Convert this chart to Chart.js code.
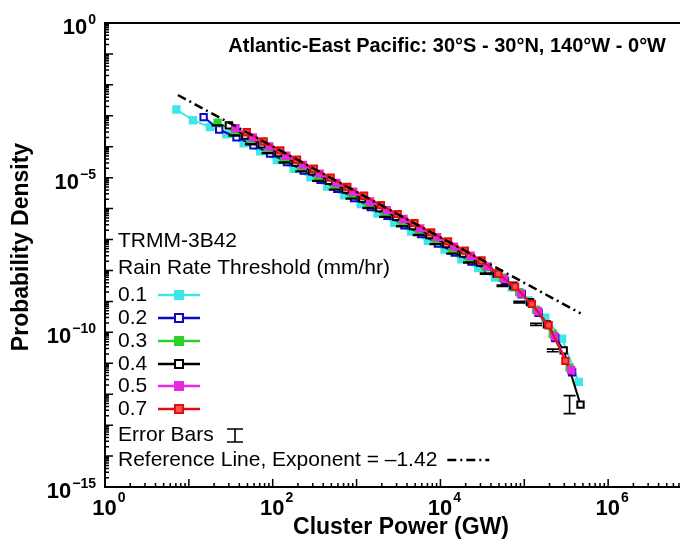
<!DOCTYPE html>
<html>
<head>
<meta charset="utf-8">
<script src="https://cdn.jsdelivr.net/npm/chart.js@4.4.1/dist/chart.umd.min.js"></script>
<style>
  html, body { margin: 0; padding: 0; background: #fff; overflow: hidden; }
  #wrap { width: 700px; height: 544px; }
</style>
</head>
<body>
<div id="wrap"><canvas id="myChart" width="700" height="544"></canvas></div>
<script>
// values (cluster power in GW, probability density)
const cyanPower = [7.1, 11.2, 17.8, 28, 45, 71, 112, 178, 282, 447, 708, 1120, 1780, 2820, 4470, 7080, 11200, 17800, 28200, 44700, 70800, 1.12e5, 1.78e5, 2.82e5, 4.47e5];
const cyanDensity = [1.6e-3, 7.2e-4, 4.3e-4, 2.5e-4, 1.3e-4, 7.1e-5, 3.7e-5, 1.95e-5, 1.02e-5, 5.2e-6, 2.7e-6, 1.4e-6, 6.9e-7, 3.5e-7, 1.8e-7, 9.1e-8, 4.7e-8, 2.3e-8, 1.2e-8, 5.9e-9, 2.8e-9, 1.07e-9, 3.0e-10, 6.2e-11, 2.5e-12];

const bluePower = [15, 23, 37, 59, 93, 148, 234, 372, 589, 933, 1480, 2340, 3720, 5890, 9330, 14800, 23400, 37200, 58900, 93300, 1.48e5, 2.34e5, 3.72e5];
const blueDensity = [9.1e-4, 3.6e-4, 2.0e-4, 1.12e-4, 6.0e-5, 3.2e-5, 1.7e-5, 8.5e-6, 4.4e-6, 2.2e-6, 1.12e-6, 5.8e-7, 2.9e-7, 1.5e-7, 7.4e-8, 3.8e-8, 1.95e-8, 9.8e-9, 4.6e-9, 1.7e-9, 4.3e-10, 6.5e-11, 5.1e-12];

const greenPower = [22, 35, 55, 87, 138, 219, 347, 550, 871, 1380, 2190, 3470, 5500, 8710, 13800, 21900, 34700, 55000, 87100, 1.38e5, 2.19e5, 3.47e5];
const greenDensity = [6.0e-4, 3.0e-4, 1.55e-4, 8.3e-5, 4.2e-5, 2.1e-5, 1.1e-5, 5.5e-6, 2.8e-6, 1.4e-6, 7.2e-7, 3.7e-7, 1.9e-7, 9.5e-8, 4.8e-8, 2.5e-8, 1.26e-8, 5.8e-9, 2.0e-9, 5.4e-10, 8.9e-11, 7.2e-12];

const blackPower = [30, 47, 74, 117, 186, 295, 468, 741, 1170, 1860, 2950, 4680, 7410, 11700, 18600, 29500, 46800, 74100, 1.17e5, 1.86e5, 2.95e5, 4.68e5];
const blackDensity = [4.9e-4, 2.3e-4, 1.2e-4, 6.2e-5, 3.1e-5, 1.6e-5, 7.9e-6, 4.1e-6, 2.1e-6, 1.05e-6, 5.4e-7, 2.7e-7, 1.4e-7, 7.1e-8, 3.5e-8, 1.8e-8, 7.9e-9, 3.2e-9, 9.5e-10, 1.8e-10, 2.6e-11, 4.6e-13];
const blackErr = [1.03, 1.03, 1.03, 1.03, 1.03, 1.03, 1.03, 1.03, 1.03, 1.03, 1.03, 1.03, 1.03, 1.03, 1.03, 1.03, 1.04, 1.05, 1.06, 1.08, 1.1, 1.95];

const magentaPower = [36, 58, 91, 145, 229, 363, 575, 912, 1450, 2290, 3630, 5750, 9120, 14500, 22900, 36300, 57500, 91200, 1.45e5, 2.29e5, 3.63e5];
const magentaDensity = [4.0e-4, 2.0e-4, 1.02e-4, 5.1e-5, 2.6e-5, 1.35e-5, 6.8e-6, 3.5e-6, 1.7e-6, 8.9e-7, 4.6e-7, 2.3e-7, 1.2e-7, 5.9e-8, 3.0e-8, 1.35e-8, 5.4e-9, 1.8e-9, 4.8e-10, 7.4e-11, 6.0e-12];

const redPower = [49, 78, 123, 195, 309, 490, 776, 1230, 1950, 3090, 4900, 7760, 12300, 19500, 30900, 49000, 77600, 1.23e5, 1.95e5, 3.09e5];
const redDensity = [2.95e-4, 1.48e-4, 7.6e-5, 3.8e-5, 1.95e-5, 1.0e-5, 5.0e-6, 2.6e-6, 1.3e-6, 6.6e-7, 3.4e-7, 1.7e-7, 8.7e-8, 4.4e-8, 2.1e-8, 7.8e-9, 3.0e-9, 8.3e-10, 1.7e-10, 1.2e-11];

// reference line, exponent -1.42 (end points)
const refPower = [7.4, 4.7e5];
const refDensity = [4.7e-3, 4.1e-10];

const thresholds = ['0.1', '0.2', '0.3', '0.4', '0.5', '0.7'];
const xTickExps = [0, 2, 4, 6];
const yTickExps = [0, -5, -10, -15];

const FONT = '"Liberation Sans", Arial, sans-serif';
const colors = ['#3ee6e6', '#0a0ac8', '#28d228', '#000000', '#e628e6', '#e01010'];
const fills = ['#3ee6e6', '#ffffff', '#28d228', '#ffffff', '#e628e6', '#ff5050'];

function pts(xs, ys) {
    return xs.map((x, i) => ({ x: x, y: ys[i] }));
}

function series(label, xs, ys, idx) {
    return {
        label: label,
        data: pts(xs, ys),
        borderColor: colors[idx],
        backgroundColor: fills[idx],
        borderWidth: 2,
        pointStyle: 'rect',
        pointRadius: 4.5,
        pointBorderWidth: 2,
        pointBorderColor: colors[idx],
        pointBackgroundColor: fills[idx],
        tension: 0
    };
}

const decor = {
    id: 'decor',
    afterDatasetsDraw(chart) {
        // error bars on the 0.4 series
        const ctx = chart.ctx;
        const ys = chart.scales.y;
        const meta = chart.getDatasetMeta(4);
        ctx.save();
        ctx.strokeStyle = '#000';
        ctx.lineWidth = 1.6;
        meta.data.forEach((el, j) => {
            const v = blackDensity[j];
            const f = blackErr[j];
            const top = ys.getPixelForValue(v * f);
            const bot = ys.getPixelForValue(v / f);
            ctx.beginPath();
            ctx.moveTo(el.x, top); ctx.lineTo(el.x, bot);
            ctx.moveTo(el.x - 6, top); ctx.lineTo(el.x + 6, top);
            ctx.moveTo(el.x - 6, bot); ctx.lineTo(el.x + 6, bot);
            ctx.stroke();
        });
        ctx.restore();
    },
    afterDraw(chart) {
        const ctx = chart.ctx;
        const a = chart.chartArea;
        const xs = chart.scales.x;
        const ys = chart.scales.y;
        ctx.save();
        ctx.strokeStyle = '#000';
        ctx.fillStyle = '#000';

        // top frame
        ctx.lineWidth = 2;
        ctx.beginPath();
        ctx.moveTo(a.left, a.top); ctx.lineTo(a.right, a.top);
        ctx.stroke();

        // inward ticks
        ctx.lineWidth = 1.5;
        ctx.beginPath();
        for (let e = 0; e <= 7; e++) {
            for (let m = 1; m <= 9; m++) {
                const v = m * Math.pow(10, e);
                if (v > 1e7) break;
                const px = xs.getPixelForValue(v);
                const len = m === 1 ? 8 : 4;
                ctx.moveTo(px, a.bottom); ctx.lineTo(px, a.bottom - len);
            }
        }
        for (let e = -15; e <= 0; e++) {
            for (let m = 1; m <= 9; m++) {
                const v = m * Math.pow(10, e);
                if (v > 1) break;
                const py = ys.getPixelForValue(v);
                const len = m === 1 ? 8 : 4;
                ctx.moveTo(a.left, py); ctx.lineTo(a.left + len, py);
            }
        }
        ctx.stroke();

        // tick labels 10^n
        const base = 'bold 22px ' + FONT;
        const sup = 'bold 14px ' + FONT;
        xTickExps.forEach(e => {
            const px = xs.getPixelForValue(Math.pow(10, e));
            const es = String(e).replace('-', '\u2212');
            ctx.font = base; const w1 = ctx.measureText('10').width;
            ctx.font = sup; const w2 = ctx.measureText(es).width;
            const x0 = px + 4 - (w1 + w2 + 1) / 2;
            ctx.textAlign = 'left'; ctx.textBaseline = 'alphabetic';
            ctx.font = base; ctx.fillText('10', x0, a.bottom + 28);
            ctx.font = sup; ctx.fillText(es, x0 + w1 + 1, a.bottom + 15);
        });
        yTickExps.forEach(e => {
            const py = ys.getPixelForValue(Math.pow(10, e));
            const es = String(e).replace('-', '\u2212');
            ctx.font = base; const w1 = ctx.measureText('10').width;
            ctx.font = sup; const w2 = ctx.measureText(es).width;
            const x0 = 96 - w2 - 1 - w1;
            ctx.textAlign = 'left'; ctx.textBaseline = 'alphabetic';
            ctx.font = base; ctx.fillText('10', x0, py + 11);
            ctx.font = sup; ctx.fillText(es, x0 + w1 + 1, py + 1);
        });

        // axis titles
        ctx.font = 'bold 23px ' + FONT;
        ctx.textAlign = 'center'; ctx.textBaseline = 'middle';
        ctx.fillText('Cluster Power (GW)', 401, 528);
        ctx.save();
        ctx.translate(22, 247);
        ctx.rotate(-Math.PI / 2);
        ctx.fillText('Probability Density', 0, 0);
        ctx.restore();

        // panel title
        ctx.font = 'bold 20px ' + FONT;
        ctx.textAlign = 'right';
        ctx.fillText('Atlantic-East Pacific: 30\u00b0S - 30\u00b0N, 140\u00b0W - 0\u00b0W', 666, 46);

        // legend
        ctx.font = '21px ' + FONT;
        ctx.textAlign = 'left';
        ctx.fillText('TRMM-3B42', 118, 241);
        ctx.fillText('Rain Rate Threshold (mm/hr)', 118, 268);
        const rows = [295, 318, 341, 364, 386, 409];
        thresholds.forEach((t, i) => {
            const y = rows[i];
            ctx.fillStyle = '#000';
            ctx.fillText(t, 118, y);
            ctx.strokeStyle = colors[i];
            ctx.lineWidth = 2.5;
            ctx.beginPath(); ctx.moveTo(158, y); ctx.lineTo(200, y); ctx.stroke();
            ctx.lineWidth = 2;
            ctx.fillStyle = fills[i];
            ctx.fillRect(175, y - 4, 8, 8);
            ctx.strokeRect(175, y - 4, 8, 8);
        });
        ctx.fillStyle = '#000';
        ctx.strokeStyle = '#000';
        ctx.fillText('Error Bars', 118, 435);
        ctx.lineWidth = 1.6;
        ctx.beginPath();
        ctx.moveTo(235, 429); ctx.lineTo(235, 442);
        ctx.moveTo(227, 429); ctx.lineTo(243, 429);
        ctx.moveTo(227, 442); ctx.lineTo(243, 442);
        ctx.stroke();
        const refText = 'Reference Line, Exponent = \u2013' + '1.42';
        ctx.fillText(refText, 118, 460);
        const tw = ctx.measureText(refText).width;
        ctx.lineWidth = 2.5;
        ctx.setLineDash([9, 4, 2, 4]);
        ctx.beginPath(); ctx.moveTo(118 + tw + 10, 460); ctx.lineTo(118 + tw + 52, 460); ctx.stroke();
        ctx.setLineDash([]);
        ctx.restore();
    }
};

const ctx = document.getElementById('myChart');
const myChart = new Chart(ctx, {
    type: 'line',
    data: {
        datasets: [
            {
                label: 'Reference',
                data: pts(refPower, refDensity),
                borderColor: '#000',
                borderWidth: 2.5,
                borderDash: [9, 4, 2, 4],
                pointRadius: 0,
                fill: false
            },
            series('0.7', redPower, redDensity, 5),
            series('0.5', magentaPower, magentaDensity, 4),
            series('0.4', blackPower, blackDensity, 3),
            series('0.3', greenPower, greenDensity, 2),
            series('0.2', bluePower, blueDensity, 1),
            series('0.1', cyanPower, cyanDensity, 0)
        ]
    },
    options: {
        responsive: false,
        animation: false,
        layout: { padding: { left: 105, top: 23, right: 8, bottom: 57 } },
        plugins: { legend: { display: false }, tooltip: { enabled: false } },
        scales: {
            x: {
                type: 'logarithmic',
                min: 1, max: 1e7,
                ticks: { display: false },
                grid: { display: false, drawTicks: false },
                border: { display: true, color: '#000', width: 2 }
            },
            y: {
                type: 'logarithmic',
                min: 1e-15, max: 1,
                ticks: { display: false },
                grid: { display: false, drawTicks: false },
                border: { display: true, color: '#000', width: 2 }
            }
        }
    },
    plugins: [decor]
});
</script>
</body>
</html>
